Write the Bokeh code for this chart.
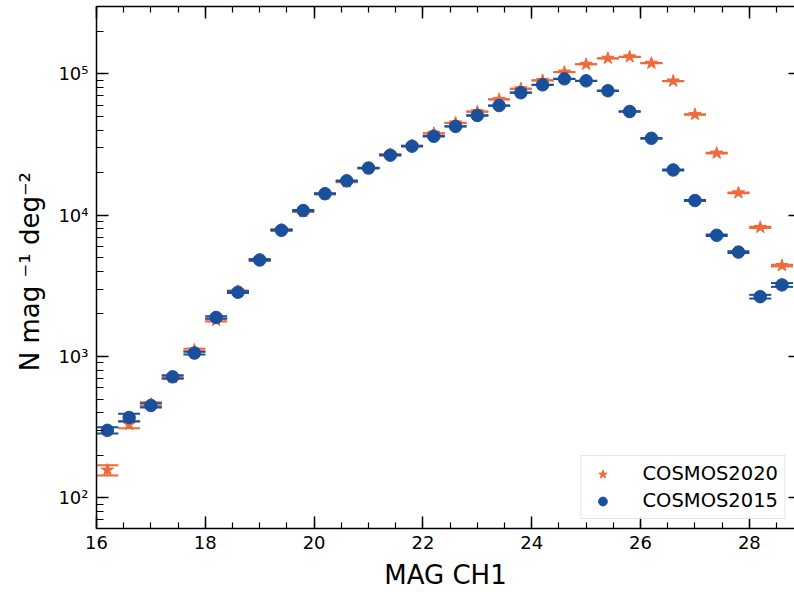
from bokeh.plotting import figure
from bokeh.models import (Range1d, LinearAxis, LogAxis, SingleIntervalTicker, FixedTicker,
                          CustomJSTickFormatter, Legend, LegendItem, ColumnDataSource)
from bokeh.embed import file_html
from bokeh.resources import INLINE

# ---------------- data ----------------
mag = [16.2, 16.6, 17.0, 17.4, 17.8, 18.2, 18.6, 19.0, 19.4, 19.8, 20.2, 20.6, 21.0, 21.4, 21.8, 22.2,
       22.6, 23.0, 23.4, 23.8, 24.2, 24.6, 25.0, 25.4, 25.8, 26.2, 26.6, 27.0, 27.4, 27.8, 28.2, 28.6]

n2020 = [157, 330, 460, 710, 1110, 1800, 2900, 4850, 7900, 10600, 14100, 17200, 21500, 27000, 31000, 38000,
         45000, 54000, 66000, 78500, 90000, 103000, 117000, 129000, 132000, 119000, 89000, 51600, 27500, 14400, 8200, 4400]
n2020_err = [13, 20, 14, 16, 22, 30, 35, 45, 55, 60, 70, 75, 80, 85, 90, 95,
             100, 110, 120, 130, 140, 160, 180, 200, 210, 220, 200, 170, 120, 90, 70, 60]

n2015 = [300, 370, 450, 718, 1057, 1890, 2850, 4820, 7820, 10790, 14190, 17500, 21570, 26600, 30800, 36200,
         42500, 50800, 59700, 73600, 83700, 92300, 89300, 76000, 54200, 35000, 20900, 12700, 7210, 5480, 2650, 3210]
n2015_err = [15, 24, 14, 18, 25, 35, 40, 55, 65, 75, 85, 95, 100, 110, 115, 120,
             130, 140, 150, 160, 175, 190, 200, 210, 200, 180, 150, 120, 90, 80, 80, 100]

x_major_interval = 2
y_major_ticks = [1e1, 1e2, 1e3, 1e4, 1e5, 1e6]
y_minor_ticks = [m * 10 ** e for e in range(1, 6) for m in range(2, 10)]

ORANGE = "#F0693A"
BLUE = "#1A4F9C"
FONT = "DejaVu Sans"

p = figure(width=794, height=592, output_backend="svg", toolbar_location=None,
           y_axis_type="log", x_range=Range1d(16, 28.83), y_range=Range1d(60.6, 3.0e5),
           min_border_left=96, min_border_right=0, min_border_top=6, min_border_bottom=60,
           background_fill_color="white", border_fill_color="white")
p.outline_line_color = None
p.grid.visible = False

def make_series(x, y, err, color, marker, size):
    up = [v + e for v, e in zip(y, err)]
    lo = [v - e for v, e in zip(y, err)]
    src = ColumnDataSource(dict(x=x, y=y, up=up, lo=lo))
    p.segment(x0="x", x1="x", y0="lo", y1="up", source=src, line_color=color, line_width=1.8)
    p.scatter(x="x", y="up", source=src, marker="dash", size=22, line_color=color, line_width=2)
    p.scatter(x="x", y="lo", source=src, marker="dash", size=22, line_color=color, line_width=2)
    r = p.scatter(x="x", y="y", source=src, marker=marker, size=size,
                  fill_color=color, line_color=color, line_width=1)
    return r

r2020 = make_series(mag, n2020, n2020_err, ORANGE, "star", 13)
r2015 = make_series(mag, n2015, n2015_err, BLUE, "circle", 12.5)

# ---------------- axes ----------------
sup_fmt = CustomJSTickFormatter(code="""
const e = Math.round(Math.log10(tick));
const sup = {"0":"\u2070","1":"\u00b9","2":"\u00b2","3":"\u00b3","4":"\u2074","5":"\u2075",
             "6":"\u2076","7":"\u2077","8":"\u2078","9":"\u2079","-":"\u207b"};
return "10" + String(e).split("").map(c => sup[c]).join("");
""")
blank_fmt = CustomJSTickFormatter(code="return '';")

xt = SingleIntervalTicker(interval=x_major_interval, num_minor_ticks=4)
yt = FixedTicker(ticks=y_major_ticks, minor_ticks=y_minor_ticks)

def style(ax, major_in=12, minor_in=6):
    ax.major_tick_in = major_in
    ax.major_tick_out = 0
    ax.minor_tick_in = minor_in
    ax.minor_tick_out = 0
    ax.major_tick_line_color = "black"
    ax.minor_tick_line_color = "black"
    ax.major_tick_line_width = 1.5
    ax.minor_tick_line_width = 1.2
    ax.axis_line_color = "black"
    ax.axis_line_width = 1.5
    ax.major_label_text_font = FONT
    ax.major_label_text_font_size = "18px"
    ax.major_label_text_color = "black"
    ax.axis_label_text_font = FONT
    ax.axis_label_text_font_size = "26px"
    ax.axis_label_text_font_style = "normal"
    ax.axis_label_text_color = "black"

xa = p.xaxis[0]
xa.ticker = xt
style(xa)
xa.major_label_standoff = 7
xa.axis_label = "MAG CH1"
xa.axis_label_standoff = 8

ya = p.yaxis[0]
ya.ticker = yt
ya.formatter = sup_fmt
style(ya, 12, 7)
ya.major_label_standoff = 8
ya.axis_label = "N  mag \u207b\u00b9 deg\u207b\u00b2"
ya.axis_label_standoff = 10

top = LinearAxis(ticker=xt, formatter=blank_fmt)
style(top)
top.major_label_standoff = 0
p.add_layout(top, "above")

right = LogAxis(ticker=yt, formatter=blank_fmt)
style(right, 6, 0)
right.axis_line_color = None
right.major_label_standoff = 0
p.add_layout(right, "right")

# ---------------- legend ----------------
legend = Legend(items=[LegendItem(label="COSMOS2020", renderers=[r2020]),
                       LegendItem(label="COSMOS2015", renderers=[r2015])],
                location="bottom_right", margin=9, padding=6, spacing=4,
                glyph_width=30, glyph_height=22, label_height=22, label_standoff=25,
                label_text_font=FONT, label_text_font_size="19.5px", label_text_color="black",
                border_line_color="#cccccc", border_line_width=1,
                background_fill_color="white", background_fill_alpha=0.85)
p.add_layout(legend)

open("out.html", "w").write(file_html(p, INLINE))
